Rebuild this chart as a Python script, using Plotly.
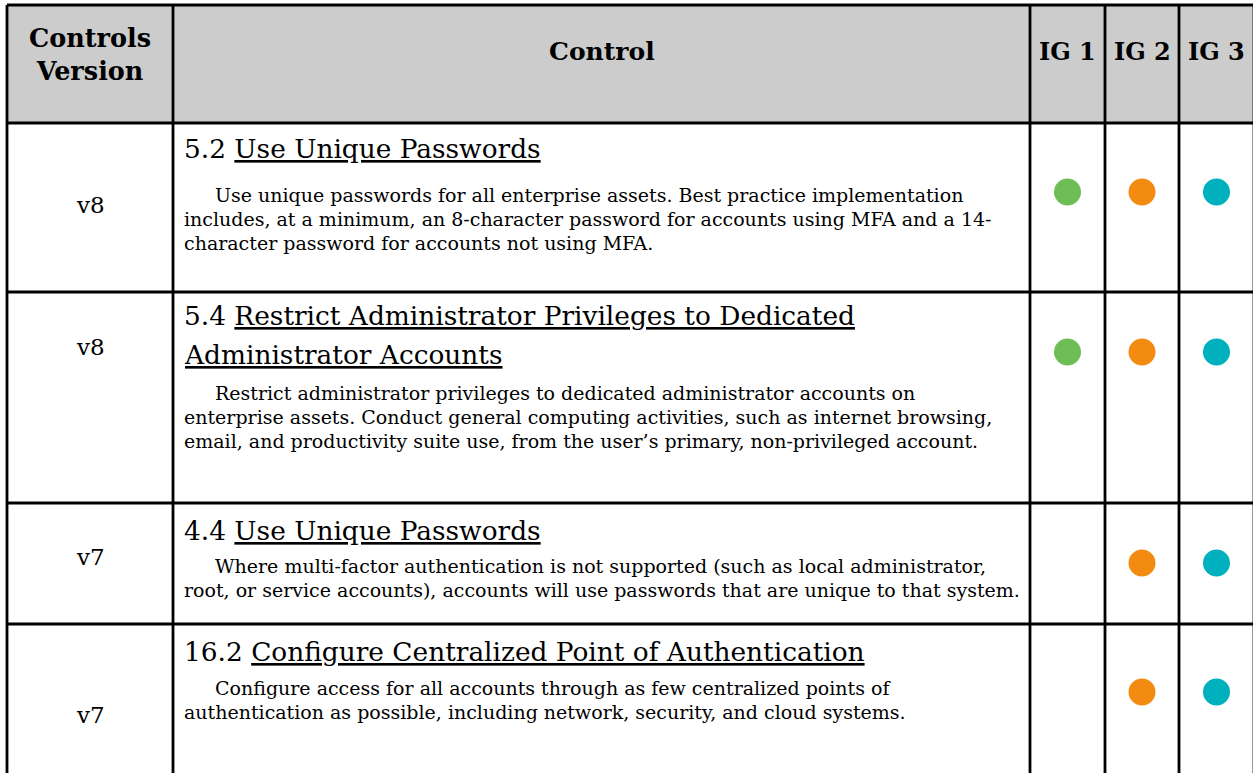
import plotly.graph_objects as go

# ---------------- data ----------------
header_labels = ["Controls<br>Version", "Control", "IG 1", "IG 2", "IG 3"]
versions = ["v8", "v8", "v7", "v7"]
control_ids = ["5.2", "5.4", "4.4", "16.2"]
control_title_lines = [
    ["Use Unique Passwords"],
    ["Restrict Administrator Privileges to Dedicated", "Administrator Accounts"],
    ["Use Unique Passwords"],
    ["Configure Centralized Point of Authentication"],
]
description_lines = [
    ["Use unique passwords for all enterprise assets. Best practice implementation",
     "includes, at a minimum, an 8-character password for accounts using MFA and a 14-",
     "character password for accounts not using MFA."],
    ["Restrict administrator privileges to dedicated administrator accounts on",
     "enterprise assets. Conduct general computing activities, such as internet browsing,",
     "email, and productivity suite use, from the user\u2019s primary, non-privileged account."],
    ["Where multi-factor authentication is not supported (such as local administrator,",
     "root, or service accounts), accounts will use passwords that are unique to that system."],
    ["Configure access for all accounts through as few centralized points of",
     "authentication as possible, including network, security, and cloud systems."],
]
ig1 = [True, True, False, False]
ig2 = [True, True, True, True]
ig3 = [True, True, True, True]
ig_colors = ["#6DBE55", "#F28B10", "#00B0BF"]

# ---------------- layout geometry (pixels) ----------------
W, H = 1253, 773
col_x = [7, 173, 1030, 1105, 1179, 1254]
row_y = [5, 123, 292, 503, 624, 776]
title_first = [148, 315, 530, 651]
desc_first = [195, 393, 566, 688]
dot_y = [192, 352, 563, 692]
ver_y = [205, 347, 557, 715]
SERIF = "DejaVu Serif"
LINE = 2.8

fig = go.Figure()
shapes = []
annotations = []

shapes.append(dict(type="rect", xref="x", yref="y", x0=col_x[0], x1=col_x[-1],
                   y0=row_y[0], y1=row_y[1], fillcolor="#CCCCCC", line=dict(width=0), layer="below"))
for x in col_x:
    shapes.append(dict(type="line", xref="x", yref="y", x0=x, x1=x, y0=row_y[0], y1=row_y[-1],
                       line=dict(color="black", width=LINE)))
for y in row_y:
    shapes.append(dict(type="line", xref="x", yref="y", x0=col_x[0], x1=col_x[-1], y0=y, y1=y,
                       line=dict(color="black", width=LINE)))

hdr_y = [54, 51, 51, 51, 51]
hdr_size = [25.5, 25, 24, 24, 24]
for i, lab in enumerate(header_labels):
    cx = (col_x[i] + col_x[i + 1]) / 2
    annotations.append(dict(x=cx, y=hdr_y[i], xref="x", yref="y", text="<b>" + lab + "</b>",
                            showarrow=False, xanchor="center", yanchor="middle",
                            font=dict(family=SERIF, size=hdr_size[i], color="black")))

TITLE_SIZE = 26.4
DESC_SIZE = 19.0
for r in range(len(versions)):
    annotations.append(dict(x=(col_x[0] + col_x[1]) / 2, y=ver_y[r], xref="x", yref="y",
                            text=versions[r], showarrow=False, xanchor="center", yanchor="middle",
                            font=dict(family=SERIF, size=23, color="black")))
    y = title_first[r]
    for k, tl in enumerate(control_title_lines[r]):
        txt = (control_ids[r] + " <u>" + tl + "</u>") if k == 0 else "<u>" + tl + "</u>"
        annotations.append(dict(x=182, y=y, xref="x", yref="y", text=txt, showarrow=False,
                                xanchor="left", yanchor="middle",
                                font=dict(family=SERIF, size=TITLE_SIZE, color="black")))
        y += 39
    y = desc_first[r]
    for k, dl in enumerate(description_lines[r]):
        annotations.append(dict(x=213 if k == 0 else 182, y=y, xref="x", yref="y", text=dl,
                                showarrow=False, xanchor="left", yanchor="middle",
                                font=dict(family=SERIF, size=DESC_SIZE, color="black")))
        y += 24

for j, flags in enumerate([ig1, ig2, ig3]):
    xs, ys = [], []
    for r, f in enumerate(flags):
        if f:
            xs.append((col_x[j + 2] + col_x[j + 3]) / 2)
            ys.append(dot_y[r])
    fig.add_trace(go.Scatter(x=xs, y=ys, mode="markers", hoverinfo="skip", showlegend=False,
                             marker=dict(size=27, color=ig_colors[j], line=dict(width=0))))

fig.update_layout(
    width=W, height=H, margin=dict(l=0, r=0, t=0, b=0),
    paper_bgcolor="white", plot_bgcolor="white",
    xaxis=dict(range=[0, W], visible=False, fixedrange=True),
    yaxis=dict(range=[H, 0], visible=False, fixedrange=True),
    shapes=shapes, annotations=annotations, showlegend=False,
)
fig.write_html("out.html", config={"displayModeBar": False},
               post_script="document.body.style.margin='0px';document.body.style.overflow='hidden';")
